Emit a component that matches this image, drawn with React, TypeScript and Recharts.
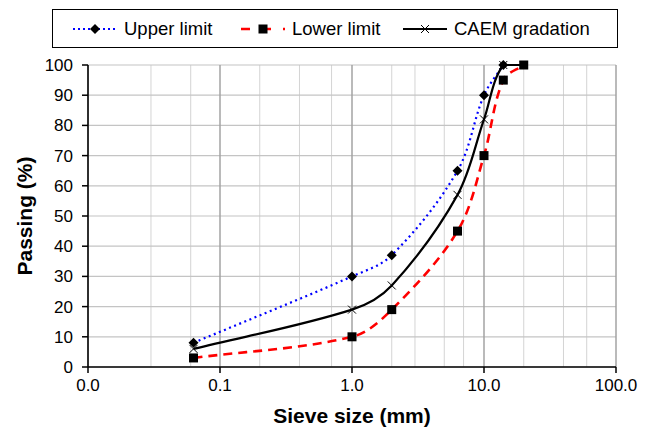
import React from "react";
import {
  CartesianGrid,
  Line,
  LineChart,
  XAxis,
  YAxis,
} from "recharts";

// sieve sizes (mm) and passing percentages
const upperSieve = [0.063, 1, 2, 6.3, 10, 14];
const upperLimit = [8, 30, 37, 65, 90, 100];

const lowerSieve = [0.063, 1, 2, 6.3, 10, 14, 20];
const lowerLimit = [3, 10, 19, 45, 70, 95, 100];

const caemSieve = [0.063, 1, 2, 6.3, 10, 14, 20];
const caemGradation = [6, 19, 27, 57, 82, 100, 100];

const xTicks = [0.01, 0.1, 1, 10, 100];
const yTicks = [0, 10, 20, 30, 40, 50, 60, 70, 80, 90, 100];

// log grid: 2..9 inside each decade
const minorTicks: number[] = [];
for (const d of [0.01, 0.1, 1, 10]) {
  for (let m = 1; m <= 9; m++) minorTicks.push(+(d * m).toPrecision(3));
}
minorTicks.push(100);

const toPoints = (xs: number[], ys: number[]) =>
  xs.map((x, i) => ({ x, y: ys[i] }));

const upperData = toPoints(upperSieve, upperLimit);
const lowerData = toPoints(lowerSieve, lowerLimit);
const caemData = toPoints(caemSieve, caemGradation);

const FONT = '"Liberation Sans", Arial, sans-serif';

// smoothed line like a spreadsheet: tangent along neighbours,
// arm length taken from the segment itself so short segments don't kink
function smoothCurve(context: any) {
  let pts: number[][] = [];
  const unit = (a: number[], b: number[]) => {
    const dx = b[0] - a[0];
    const dy = b[1] - a[1];
    const l = Math.hypot(dx, dy) || 1;
    return [dx / l, dy / l];
  };
  return {
    areaStart() {},
    areaEnd() {},
    lineStart() {
      pts = [];
    },
    point(x: number, y: number) {
      pts.push([+x, +y]);
    },
    lineEnd() {
      const n = pts.length;
      if (!n) return;
      context.moveTo(pts[0][0], pts[0][1]);
      for (let i = 0; i < n - 1; i++) {
        const p0 = pts[Math.max(i - 1, 0)];
        const p1 = pts[i];
        const p2 = pts[i + 1];
        const p3 = pts[Math.min(i + 2, n - 1)];
        const len = Math.hypot(p2[0] - p1[0], p2[1] - p1[1]) / 3;
        let d1 = unit(p0, p2);
        let d2 = unit(p1, p3);
        if (p1[1] === p2[1]) {
          d1 = [1, 0];
          d2 = [1, 0];
        }
        context.bezierCurveTo(
          p1[0] + d1[0] * len,
          p1[1] + d1[1] * len,
          p2[0] - d2[0] * len,
          p2[1] - d2[1] * len,
          p2[0],
          p2[1]
        );
      }
    },
  };
}

function Diamond({ cx, cy }: { cx?: number; cy?: number }) {
  if (cx == null || cy == null) return null;
  const r = 5;
  return (
    <polygon
      points={`${cx},${cy - r} ${cx + r},${cy} ${cx},${cy + r} ${cx - r},${cy}`}
      fill="#000"
    />
  );
}

function Square({ cx, cy }: { cx?: number; cy?: number }) {
  if (cx == null || cy == null) return null;
  const s = 9;
  return <rect x={cx - s / 2} y={cy - s / 2} width={s} height={s} fill="#000" />;
}

function Cross({ cx, cy }: { cx?: number; cy?: number }) {
  if (cx == null || cy == null) return null;
  const r = 4;
  return (
    <g stroke="#000" strokeWidth={1}>
      <line x1={cx - r} y1={cy - r} x2={cx + r} y2={cy + r} />
      <line x1={cx - r} y1={cy + r} x2={cx + r} y2={cy - r} />
    </g>
  );
}

function LegendItem({
  label,
  stroke,
  dash,
  width,
  marker,
  left,
}: {
  label: string;
  stroke: string;
  dash?: string;
  width: number;
  marker: React.ReactNode;
  left: number;
}) {
  return (
    <div
      style={{
        position: "absolute",
        left,
        top: 0,
        bottom: 0,
        display: "flex",
        alignItems: "center",
        gap: 7,
        whiteSpace: "nowrap",
      }}
    >
      <svg width={44} height={14}>
        <line
          x1={0}
          y1={7}
          x2={44}
          y2={7}
          stroke={stroke}
          strokeWidth={width}
          strokeDasharray={dash}
        />
        {marker}
      </svg>
      <span>{label}</span>
    </div>
  );
}

export default function App() {
  return (
    <div
      style={{
        position: "relative",
        width: 651,
        height: 428,
        background: "#fff",
        fontFamily: FONT,
      }}
    >
      <style>{`body{margin:0}`}</style>
      <LineChart
        width={651}
        height={428}
        margin={{ top: 65, right: 35, bottom: 0, left: 0 }}
        style={{ fontFamily: FONT }}
      >
        <XAxis
          xAxisId="minor"
          type="number"
          dataKey="x"
          scale="log"
          domain={[0.01, 100]}
          ticks={minorTicks}
          allowDataOverflow
          hide
        />
        <CartesianGrid
          xAxisId="minor"
          horizontal={false}
          stroke="#d4d4d4"
          strokeWidth={1}
        />
        <CartesianGrid vertical={false} stroke="#c4c4c4" strokeWidth={1.2} />
        <CartesianGrid horizontal={false} stroke="#9a9a9a" strokeWidth={1.2} />
        <XAxis
          type="number"
          dataKey="x"
          scale="log"
          domain={[0.01, 100]}
          ticks={xTicks}
          allowDataOverflow
          tickFormatter={(v: number) => v.toFixed(1)}
          height={61}
          tick={{ fill: "#000", fontSize: 17 }}
          tickSize={6}
          tickMargin={6}
          axisLine={{ stroke: "#000", strokeWidth: 1.5 }}
          tickLine={{ stroke: "#000", strokeWidth: 1.5 }}
          label={{
            value: "Sieve size (mm)",
            position: "insideBottom",
            offset: 5,
            style: { fontSize: 21, fontWeight: "bold", fill: "#000" },
          }}
        />
        <YAxis
          type="number"
          domain={[0, 100]}
          ticks={yTicks}
          width={88}
          tick={{ fill: "#000", fontSize: 17 }}
          tickSize={6}
          tickMargin={9}
          axisLine={{ stroke: "#000", strokeWidth: 1.5 }}
          tickLine={{ stroke: "#000", strokeWidth: 1.5 }}
          label={{
            value: "Passing (%)",
            angle: -90,
            position: "insideLeft",
            offset: 25,
            style: {
              fontSize: 21,
              fontWeight: "bold",
              fill: "#000",
              textAnchor: "middle",
            },
          }}
        />
        <Line
          data={upperData}
          dataKey="y"
          type={smoothCurve as any}
          stroke="#0000ff"
          strokeWidth={2.2}
          strokeDasharray="2 3.5"
          dot={(p: any) => <Diamond key={`u${p.index}`} cx={p.cx} cy={p.cy} />}
          isAnimationActive={false}
        />
        <Line
          data={lowerData}
          dataKey="y"
          type={smoothCurve as any}
          stroke="#ff0000"
          strokeWidth={2.6}
          strokeDasharray="9 6"
          dot={(p: any) => <Square key={`l${p.index}`} cx={p.cx} cy={p.cy} />}
          isAnimationActive={false}
        />
        <Line
          data={caemData}
          dataKey="y"
          type={smoothCurve as any}
          stroke="#000"
          strokeWidth={2.2}
          dot={(p: any) => <Cross key={`c${p.index}`} cx={p.cx} cy={p.cy} />}
          isAnimationActive={false}
        />
      </LineChart>

      <div
        style={{
          position: "absolute",
          left: 52,
          top: 9,
          width: 566,
          height: 39,
          boxSizing: "border-box",
          border: "1.5px solid #000",
          fontSize: 18.5,
          color: "#000",
          background: "#fff",
        }}
      >
        <LegendItem
          left={20}
          label="Upper limit"
          stroke="#0000ff"
          dash="2 3"
          width={2}
          marker={<Diamond cx={22} cy={7} />}
        />
        <LegendItem
          left={188}
          label="Lower limit"
          stroke="#ff0000"
          dash="9 12"
          width={2.6}
          marker={<Square cx={22} cy={7} />}
        />
        <LegendItem
          left={350}
          label="CAEM gradation"
          stroke="#000"
          width={2}
          marker={<Cross cx={22} cy={7} />}
        />
      </div>
    </div>
  );
}
